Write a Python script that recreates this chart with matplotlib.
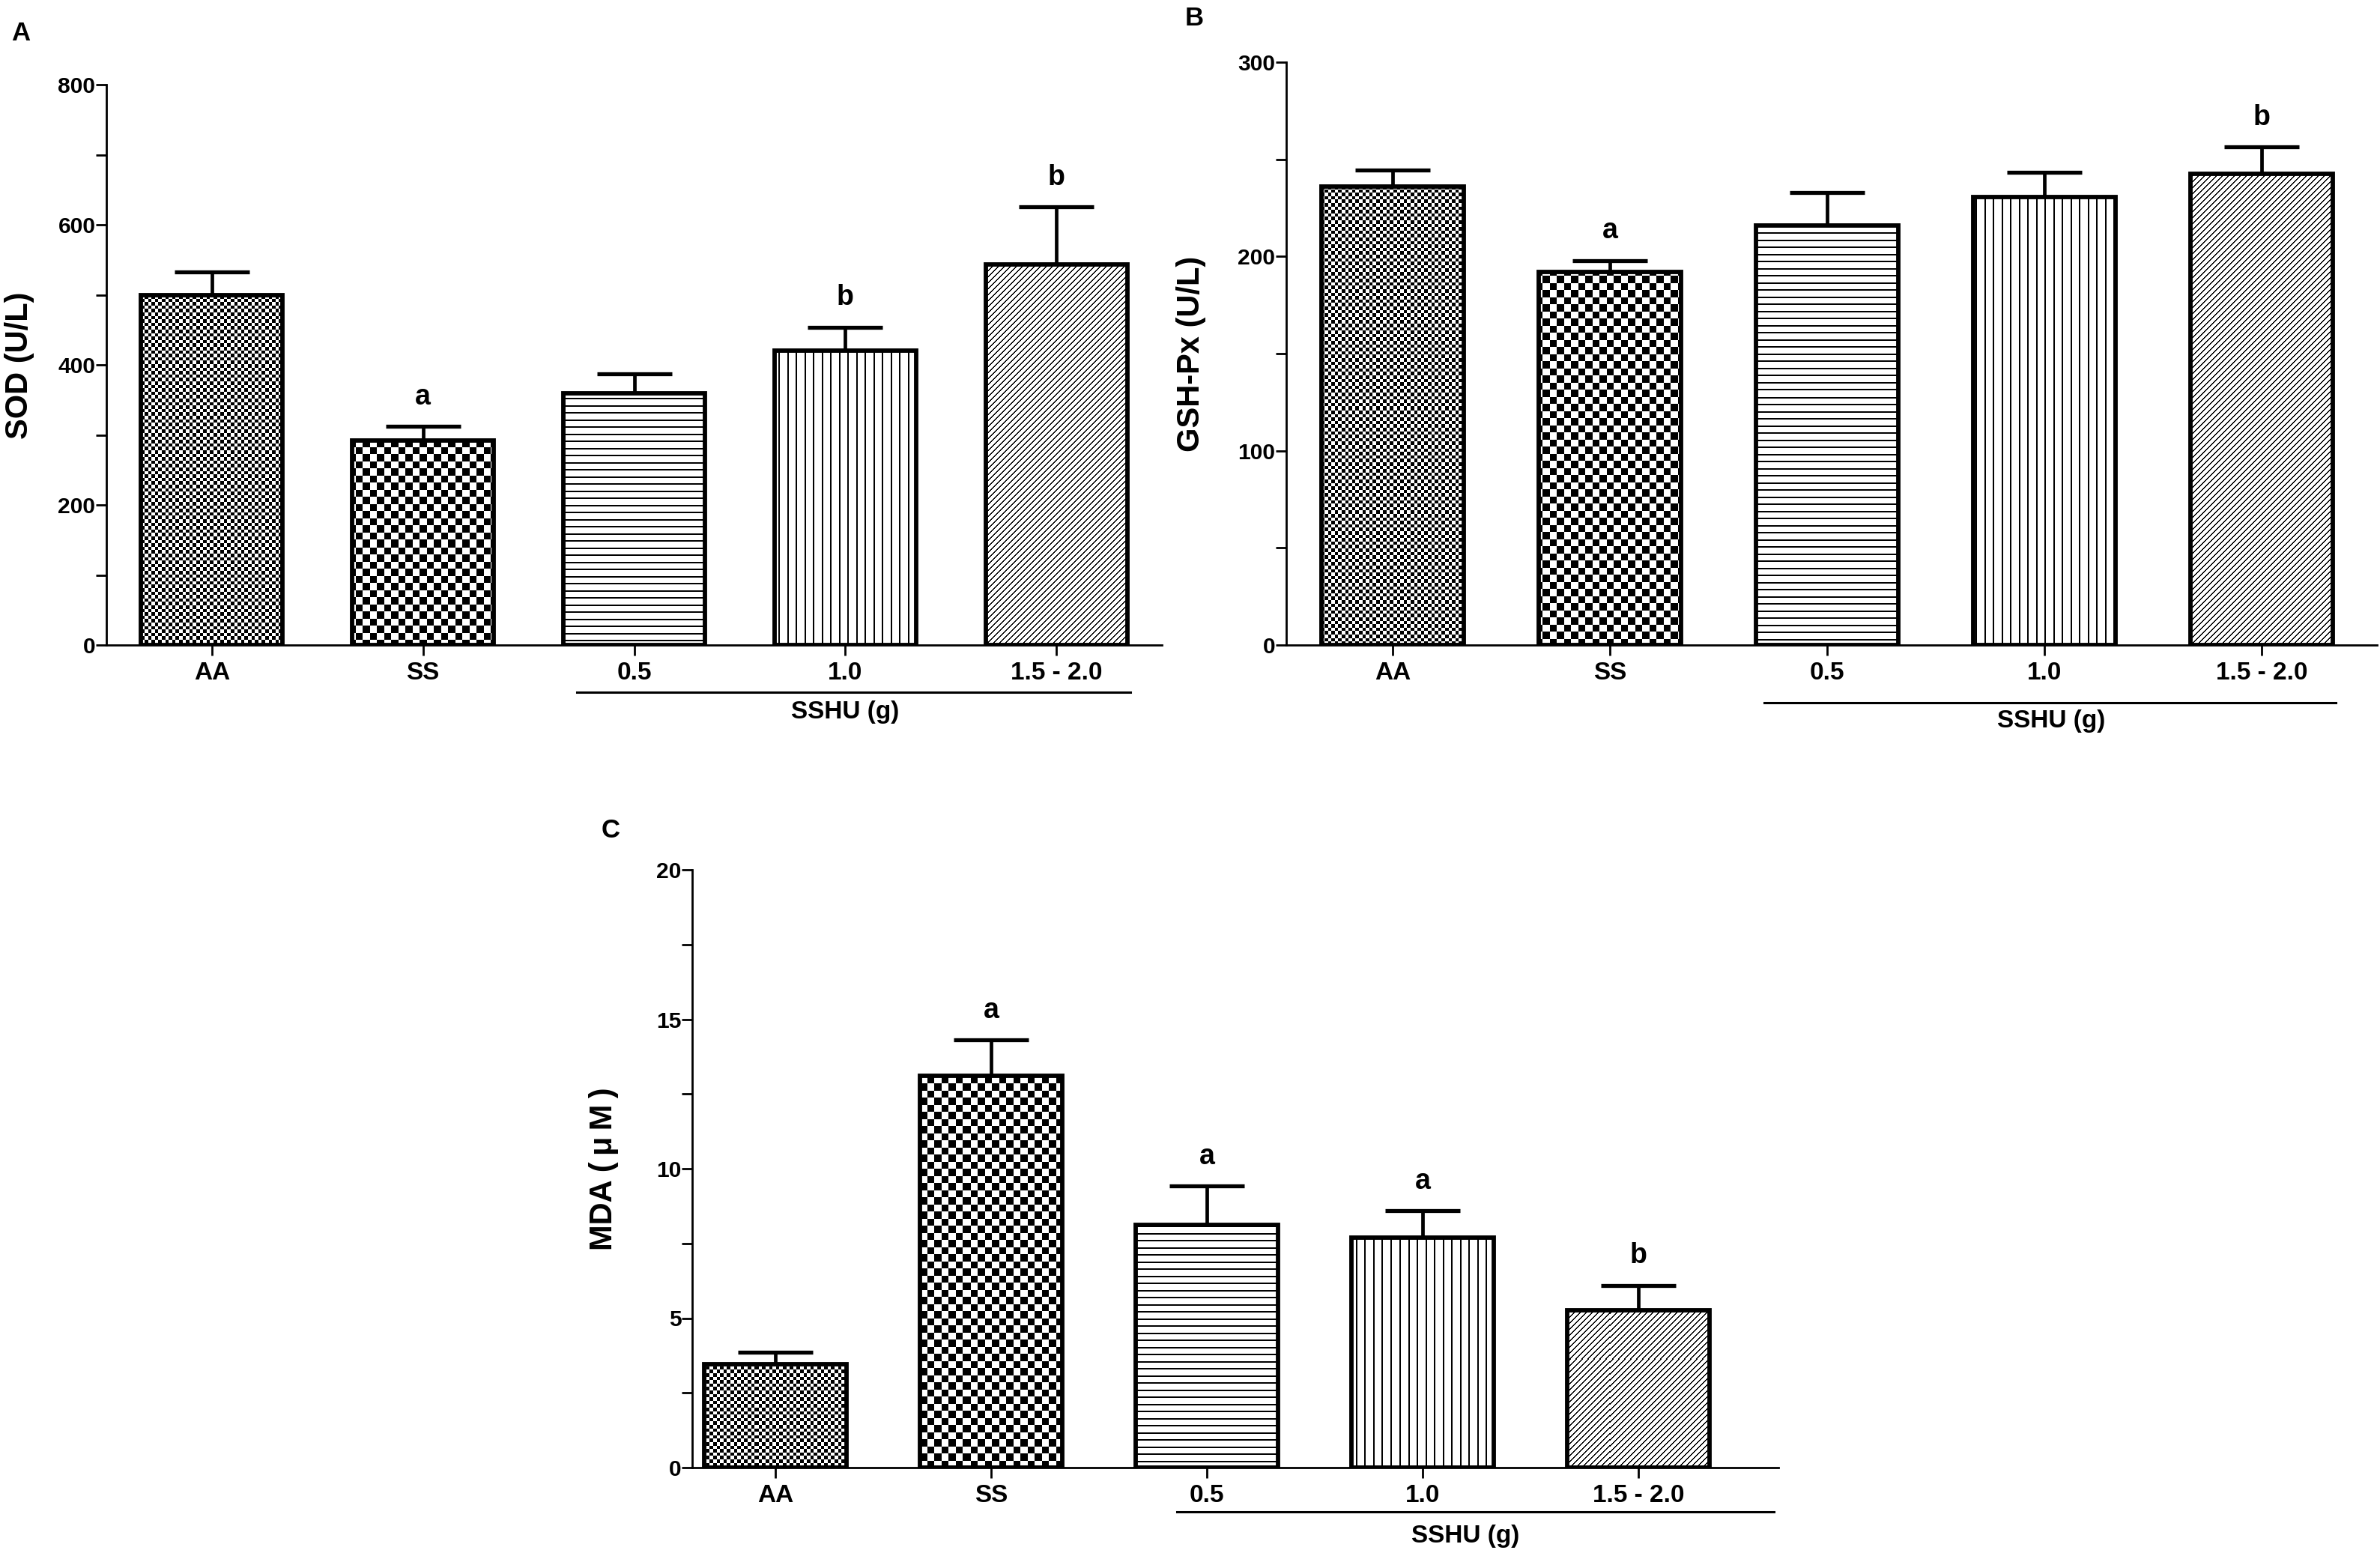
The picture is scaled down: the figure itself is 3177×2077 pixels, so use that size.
import numpy as np
import matplotlib
matplotlib.use('Agg')
import matplotlib.pyplot as plt
from matplotlib.ticker import MultipleLocator
from matplotlib.transforms import blended_transform_factory

W, H, DPI = 3177, 2077, 100

groups = ['AA', 'SS', '0.5', '1.0', '1.5 - 2.0']
group_label = 'SSHU (g)'

sod_mean = [499, 292, 359, 420, 543]
sod_sem = [34, 20, 28, 34, 83]
sod_sig = ['', 'a', '', 'b', 'b']

gsh_mean = [236, 192, 216, 230.5, 242.5]
gsh_sem = [8.5, 6, 17, 13, 14]
gsh_sig = ['', 'a', '', '', 'b']

mda_mean = [3.45, 13.1, 8.12, 7.7, 5.27]
mda_sem = [0.4, 1.2, 1.31, 0.9, 0.83]
mda_sig = ['', 'a', 'a', 'a', 'b']

patterns = ['fine_check', 'check', 'hlines', 'vlines', 'diag']

plt.rcParams['font.family'] = ['Liberation Sans', 'DejaVu Sans']
plt.rcParams['font.weight'] = 'bold'


def texture(kind, h, w):
    # 1 = white, 0 = black, in screen pixels
    yy, xx = np.mgrid[0:h, 0:w].astype(float)
    if kind == 'fine_check':
        t = (np.floor(xx / 4.6) + np.floor(yy / 4.6)) % 2
    elif kind == 'check':
        t = (np.floor(xx / 9.5) + np.floor(yy / 9.5)) % 2
    elif kind == 'hlines':
        t = np.where(yy % 9.5 < 1.7, 0.0, 1.0)
    elif kind == 'vlines':
        t = np.where(xx % 11.5 < 1.7, 0.0, 1.0)
    else:
        t = np.where((xx + yy) % 8.0 < 2.0, 0.0, 1.0)
    return t


def px_rect(left, top, right, bottom):
    return [left / W, 1 - bottom / H, (right - left) / W, (bottom - top) / H]


def panel(fig, rect, means, sems, sig, ylim, major, minor, ylabel, ylab_xy,
          xlim, width, span, line_off, lab_x, lab_off, letter, letter_xy):
    ax = fig.add_axes(px_rect(*rect))
    x = np.arange(len(groups))
    ax.set_xlim(*xlim)
    ax.set_ylim(*ylim)
    wpx = int(round(rect[2] - rect[0]))
    hpx = int(round(rect[3] - rect[1]))

    bars = ax.bar(x, means, width=width, facecolor='none', edgecolor='black',
                  linewidth=4.2, zorder=3)
    for bar, kind in zip(bars, patterns):
        im = ax.imshow(texture(kind, hpx, wpx), cmap='gray', vmin=0, vmax=1,
                       extent=(xlim[0], xlim[1], ylim[0], ylim[1]),
                       aspect='auto', interpolation='nearest', zorder=1)
        im.set_clip_path(bar)

    eb = ax.errorbar(x, means, yerr=[np.zeros(len(x)), sems], fmt='none',
                     ecolor='black', elinewidth=3.4, capsize=36, capthick=3.8,
                     zorder=4)
    for cap in eb[1]:
        if np.allclose(cap.get_ydata(), means):
            cap.set_visible(False)

    for xi, m, s, t in zip(x, means, sems, sig):
        if t:
            ax.annotate(t, (xi, m + s), xytext=(0, 21), textcoords='offset points',
                        ha='center', va='baseline', fontsize=27, fontweight='bold')

    ax.set_xlim(*xlim)
    ax.set_ylim(*ylim)
    ax.set_xticks(x, groups)
    ax.yaxis.set_major_locator(MultipleLocator(major))
    ax.yaxis.set_minor_locator(MultipleLocator(minor))
    ax.tick_params(axis='x', length=10, width=2, pad=6, labelsize=24)
    ax.tick_params(axis='y', which='both', length=10, width=2, pad=0.5,
                   labelsize=21.6)
    for s in ['top', 'right']:
        ax.spines[s].set_visible(False)
    for s in ['left', 'bottom']:
        ax.spines[s].set_linewidth(2)

    tr = blended_transform_factory(ax.transData, ax.transAxes)
    ax.plot(span, [-line_off / hpx] * 2, color='black', lw=2.2,
            transform=tr, clip_on=False)
    ax.text(lab_x, -lab_off / hpx, group_label, transform=tr, ha='center',
            va='center', fontsize=24, fontweight='bold')

    fig.text(ylab_xy[0] / W, 1 - ylab_xy[1] / H, ylabel, rotation=90,
             ha='center', va='center', fontsize=30, fontweight='bold')
    fig.text(letter_xy[0] / W, 1 - letter_xy[1] / H, letter, ha='center',
             va='center', fontsize=25, fontweight='bold')
    return ax


fig = plt.figure(figsize=(W / DPI, H / DPI), dpi=DPI)

panel(fig, (142, 113, 1551, 861), sod_mean, sod_sem, sod_sig, (0, 800), 200, 100,
      'SOD (U/L)', (26, 488), (-0.5, 4.5), 0.67, (1.73, 4.35), 63, 3.0, 89,
      'A', (28, 45))
panel(fig, (1717, 83, 3173, 861), gsh_mean, gsh_sem, gsh_sig, (0, 300), 100, 50,
      'GSH-Px (U/L)', (1590, 472), (-0.49, 4.53), 0.655, (1.71, 4.34), 77, 3.03, 101,
      'B', (1594, 24))
panel(fig, (924, 1161, 2374, 1959), mda_mean, mda_sem, mda_sig, (0, 20), 5, 2.5,
      'MDA (\u2009\u03bc\u2009M\u2009)', (806, 1560), (-0.385, 4.65), 0.66,
      (1.86, 4.63), 59, 3.2, 91, 'C', (815, 1108))

fig.savefig('out.png', dpi=DPI)
